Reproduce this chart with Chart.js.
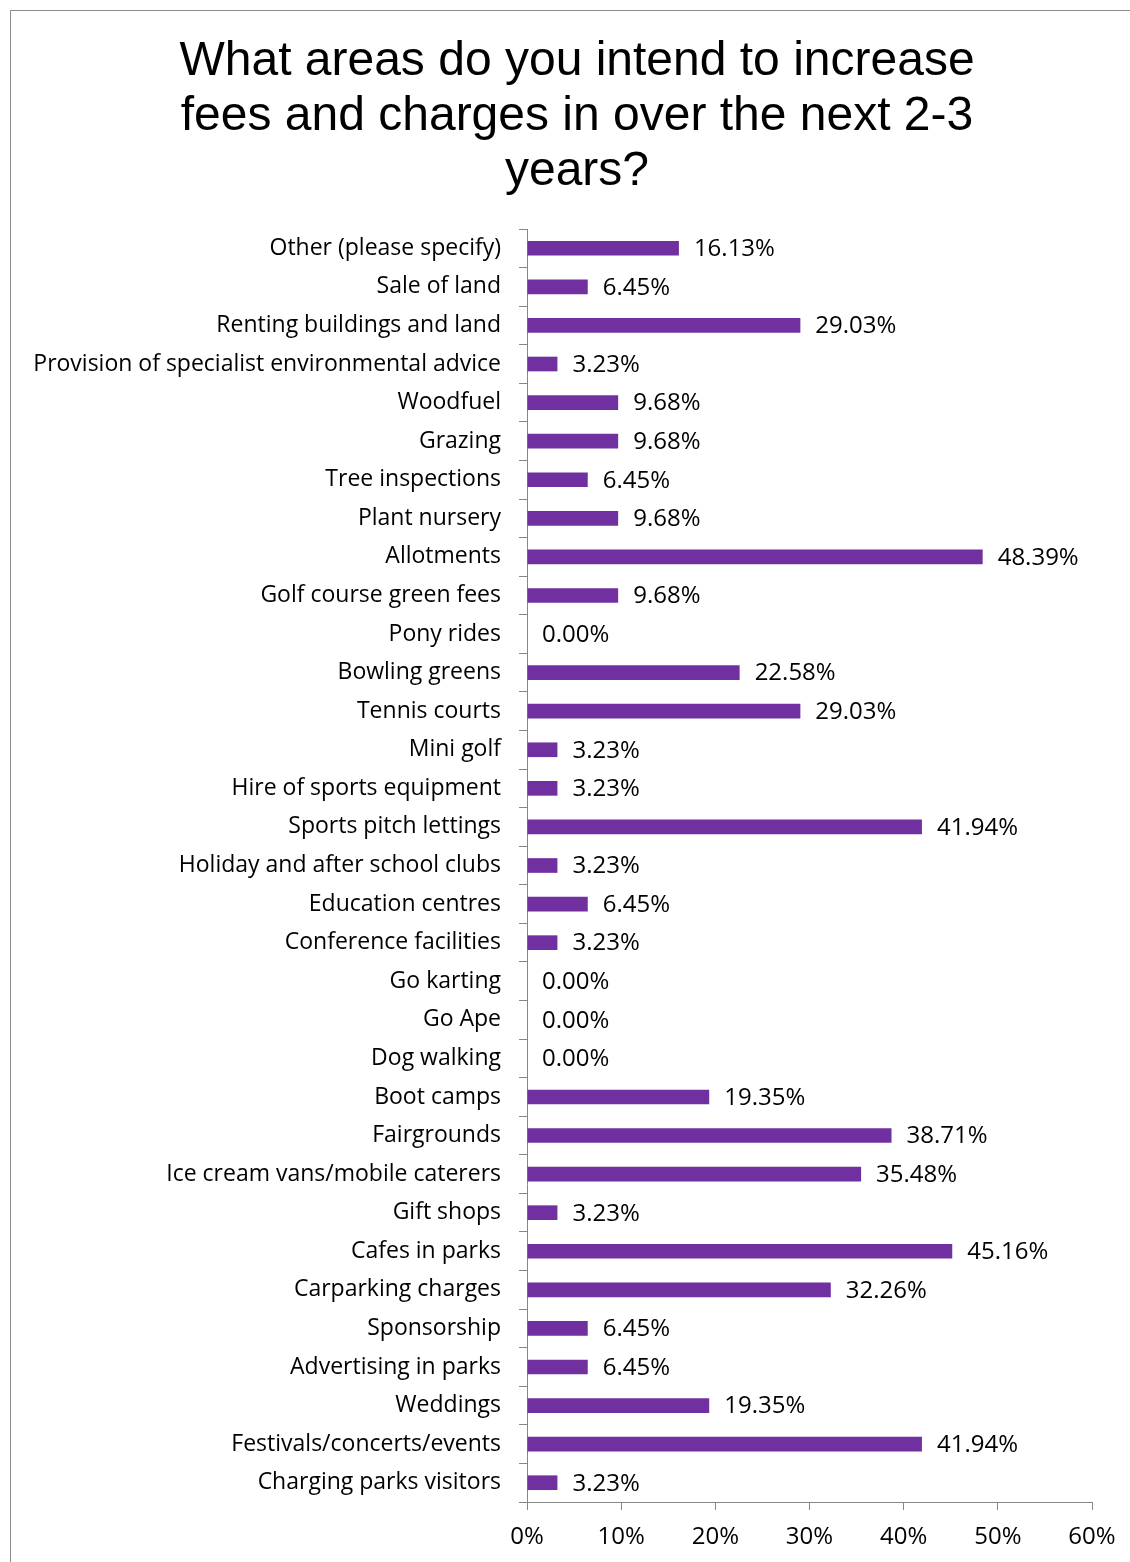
<!DOCTYPE html>
<html>
<head>
<meta charset="utf-8">
<script src="https://cdn.jsdelivr.net/npm/chart.js@4/dist/chart.umd.min.js"></script>
<style>
  body { margin: 0; background: #fff; }
  #wrap { position: relative; width: 1130px; height: 1562px; }
  #frame { position: absolute; left: 10px; top: 10px; right: 0; bottom: 0;
           border-left: 1px solid #8c8c8c; border-top: 1px solid #8c8c8c; }
  canvas { position: absolute; left: 0; top: 0; }
</style>
</head>
<body>
<div id="wrap">
  <div id="frame"></div>
  <canvas id="grafico" width="1130" height="1562"></canvas>
</div>
<script>
// categories, top to bottom
const categorias = [
  "Other (please specify)", "Sale of land", "Renting buildings and land",
  "Provision of specialist environmental advice", "Woodfuel", "Grazing",
  "Tree inspections", "Plant nursery", "Allotments", "Golf course green fees",
  "Pony rides", "Bowling greens", "Tennis courts", "Mini golf",
  "Hire of sports equipment", "Sports pitch lettings",
  "Holiday and after school clubs", "Education centres",
  "Conference facilities", "Go karting", "Go Ape", "Dog walking",
  "Boot camps", "Fairgrounds", "Ice cream vans/mobile caterers", "Gift shops",
  "Cafes in parks", "Carparking charges", "Sponsorship",
  "Advertising in parks", "Weddings", "Festivals/concerts/events",
  "Charging parks visitors"
];

// percent of respondents
const percentuais = [
  16.13, 6.45, 29.03, 3.23, 9.68, 9.68, 6.45, 9.68, 48.39, 9.68,
  0.00, 22.58, 29.03, 3.23, 3.23, 41.94, 3.23, 6.45, 3.23, 0.00,
  0.00, 0.00, 19.35, 38.71, 35.48, 3.23, 45.16, 32.26, 6.45, 6.45,
  19.35, 41.94, 3.23
];

const tituloLinhas = [
  "What areas do you intend to increase",
  "fees and charges in over the next 2-3",
  "years?"
];

const eixoX = { min: 0, max: 60, step: 10 };

const fonteRotulo = "'Open Sans', sans-serif";

// value labels next to each bar
const rotulosValor = {
  id: "rotulosValor",
  afterDatasetsDraw(chart) {
    const ctx = chart.ctx;
    const meta = chart.getDatasetMeta(0);
    ctx.save();
    ctx.font = "24px " + fonteRotulo;
    ctx.fillStyle = "#000";
    ctx.textAlign = "left";
    ctx.textBaseline = "middle";
    meta.data.forEach((bar, i) => {
      ctx.fillText(percentuais[i].toFixed(2) + "%", bar.x + 15, bar.y + 1);
    });
    ctx.restore();
  }
};

// title, centred on the whole frame rather than the padded box
const titulo = {
  id: "titulo",
  afterDraw(chart) {
    const ctx = chart.ctx;
    ctx.save();
    ctx.font = "48px 'Liberation Sans', Arial, sans-serif";
    ctx.fillStyle = "#000";
    ctx.textAlign = "center";
    ctx.textBaseline = "alphabetic";
    tituloLinhas.forEach((linha, i) => {
      ctx.fillText(linha, 577, 75 + i * 55);
    });
    ctx.restore();
  }
};

const corEixo = "#868686";

new Chart(document.getElementById("grafico"), {
  type: "bar",
  data: {
    labels: categorias,
    datasets: [{
      data: percentuais,
      backgroundColor: "#7030A0",
      borderWidth: 0,
      categoryPercentage: 1,
      barPercentage: 0.38
    }]
  },
  plugins: [rotulosValor, titulo],
  options: {
    indexAxis: "y",
    responsive: false,
    animation: false,
    layout: { padding: { left: 10, right: 38, top: 229, bottom: 0 } },
    plugins: {
      legend: { display: false },
      tooltip: { enabled: false },
      title: { display: false }
    },
    scales: {
      x: {
        min: eixoX.min,
        max: eixoX.max,
        afterFit: (s) => { s.height = 60; },
        ticks: {
          stepSize: eixoX.step,
          color: "#000",
          padding: 13,
          font: { family: fonteRotulo, size: 24 },
          callback: (v) => v + "%"
        },
        grid: { drawOnChartArea: false, tickLength: 8, color: corEixo },
        border: { color: corEixo }
      },
      y: {
        afterFit: (s) => { s.width = 517; },
        ticks: {
          color: "#000",
          padding: 18,
          font: { family: fonteRotulo, size: 23 },
          autoSkip: false
        },
        grid: { offset: true, drawOnChartArea: false, tickLength: 8, color: corEixo },
        border: { color: corEixo }
      }
    }
  }
});
</script>
</body>
</html>
